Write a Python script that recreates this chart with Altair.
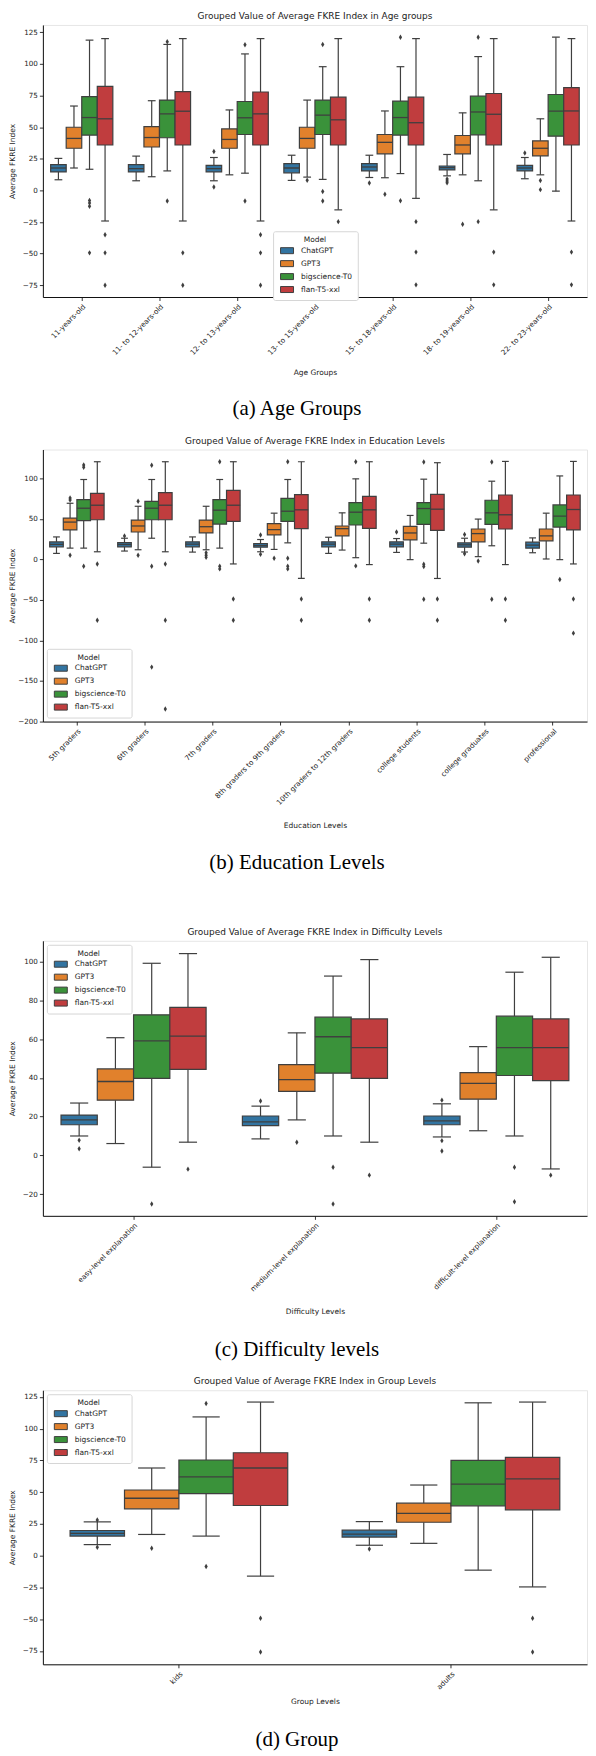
import altair as alt
import pandas as pd

MODELS = ["ChatGPT", "GPT3", "bigscience-T0", "flan-T5-xxl"]
COLORS = ["#3274a1", "#e1812c", "#3a923a", "#c03d3e"]

# every box is (lower whisker, q1, median, q3, upper whisker)

# (a) age groups
AGE_GROUPS = ["11-years-old", "11- to 12-years-old", "12- to 13-years-old",
              "13- to 15-years-old", "15- to 18-years-old", "18- to 19-years-old",
              "22- to 23-years-old"]
AGE_BOXES = {
    "ChatGPT": [(8.4, 14.6, 17.7, 20.3, 25.3), (7.6, 14.6, 17.2, 20.3, 27.1),
                (7.6, 14.6, 17.2, 19.8, 26.0), (7.9, 13.9, 17.7, 21.1, 27.8),
                (10.2, 15.4, 18.5, 21.1, 27.8), (11.5, 16.2, 18.0, 19.3, 28.4),
                (9.2, 15.4, 17.7, 19.8, 26.0)],
    "GPT3": [(17.7, 33.3, 41.1, 49.9, 66.7), (10.8, 34.3, 41.8, 50.4, 70.9),
             (12.3, 33.3, 40.3, 48.6, 63.6), (10.5, 33.3, 41.1, 49.9, 71.4),
             (10.0, 28.9, 38.0, 44.2, 62.8), (12.3, 28.9, 35.9, 43.4, 61.3),
             (12.3, 27.3, 33.3, 39.2, 56.6)],
    "bigscience-T0": [(16.7, 43.7, 57.6, 74.2, 118.8), (15.4, 41.6, 60.5, 71.4, 115.4),
                      (13.6, 44.2, 57.4, 70.3, 107.9), (8.7, 44.2, 59.5, 71.4, 97.8),
                      (13.3, 43.7, 57.6, 70.6, 97.8), (7.6, 43.9, 62.0, 74.5, 105.8),
                      (-0.6, 42.9, 62.6, 75.8, 121.1)],
    "flan-T5-xxl": [(-24.2, 35.9, 56.6, 82.3, 120.0), (-24.2, 35.9, 62.6, 78.1, 120.0),
                    (-24.2, 35.9, 60.5, 77.8, 120.0), (-15.4, 35.9, 55.8, 73.7, 120.0),
                    (-6.3, 35.9, 53.5, 73.7, 120.0), (-15.4, 35.9, 60.2, 76.6, 120.0),
                    (-24.2, 35.9, 62.8, 81.2, 120.0)],
}
AGE_FLIERS = {
    "ChatGPT": [[], [], [30.7, 2.7], [], [5.8], [9.0, 7.5, 6.0], [29.5]],
    "GPT3": [[], [], [], [8.0], [-3.0], [-26.8], [7.9, 0.6]],
    "bigscience-T0": [[-7.9, -10.0, -12.6, -49.4], [117.5, -8.4], [115.2, -8.4],
                      [115.4, -0.9, -8.4], [121.1, -8.2], [121.1, -24.7], []],
    "flan-T5-xxl": [[-35.1, -49.4, -75.0], [-49.4, -75.0], [-35.1, -49.4, -75.0],
                    [-24.7, -48.6, -75.0], [-24.7, -48.8, -74.7], [-48.8, -74.7],
                    [-48.8, -74.7]],
}

# (b) education levels
EDU_GROUPS = ["5th graders", "6th graders", "7th graders", "8th graders to 9th graders",
              "10th graders to 12th graders", "college students", "college graduates",
              "professional"]
EDU_BOXES = {
    "ChatGPT": [(7.3, 15.4, 18.3, 21.5, 27.6), (10.2, 15.4, 18.3, 20.7, 26.0),
                (8.9, 15.4, 18.7, 21.5, 27.6), (9.3, 15.0, 17.1, 19.5, 24.4),
                (7.3, 15.4, 18.7, 21.5, 27.2), (8.5, 15.4, 18.7, 21.5, 25.6),
                (9.0, 15.0, 17.9, 20.3, 26.0), (8.1, 13.8, 17.5, 21.1, 26.4)],
    "GPT3": [(13.8, 36.2, 45.9, 50.8, 69.1), (11.8, 33.7, 41.1, 48.4, 65.4),
             (11.8, 32.5, 40.2, 48.4, 65.4), (12.2, 30.1, 36.6, 43.9, 56.9),
             (11.4, 28.9, 37.8, 41.1, 57.3), (-0.4, 24.0, 32.5, 40.7, 54.1),
             (3.3, 21.5, 31.7, 37.4, 49.6), (0.4, 22.8, 28.9, 37.4, 56.9)],
    "bigscience-T0": [(13.8, 47.6, 63.0, 73.6, 98.4), (26.0, 48.8, 63.0, 71.5, 98.4),
                      (13.8, 43.5, 60.6, 73.6, 98.4), (20.3, 46.7, 59.3, 75.2, 98.4),
                      (2.0, 42.3, 58.1, 69.9, 99.2), (19.9, 43.1, 62.6, 69.9, 98.8),
                      (16.7, 43.1, 57.3, 72.8, 96.3), (-0.4, 39.8, 53.3, 67.1, 102.8)],
    "flan-T5-xxl": [(9.3, 48.8, 66.7, 81.3, 120.3), (9.3, 48.8, 66.7, 82.1, 120.3),
                    (-5.7, 46.7, 66.7, 85.0, 120.3), (-23.6, 37.8, 61.0, 79.7, 120.3),
                    (-6.5, 38.2, 61.0, 77.6, 120.3), (-23.6, 35.8, 61.8, 80.1, 119.1),
                    (-6.5, 37.4, 54.9, 79.3, 120.7), (-5.7, 36.2, 61.4, 79.3, 120.7)],
}
EDU_FLIERS = {
    "ChatGPT": [[], [28.9], [], [30.1, 6.1], [], [33.7], [30.5, 6.9], []],
    "GPT3": [[75.6, 73.0, 4.9], [71.5, 4.9], [8.1, 4.9, 2.4], [1.2], [], [], [-2.0], []],
    "bigscience-T0": [[116.3, 113.5, -8.5], [115.9, -8.5, -132.9], [120.3, -8.5, -11.8],
                      [120.3, 1.2, -8.5, -11.8], [120.3, -8.1], [119.9, -6.1, -8.9, -49.2],
                      [120.0, -49.2], [-24.8]],
    "flan-T5-xxl": [[-5.7, -75.2], [-5.7, -75.2, -184.6], [-48.8, -75.2], [-48.8, -75.2],
                    [-48.8, -75.2], [-48.8, -75.2], [-48.8, -75.2], [-48.8, -91.0]],
}

# (c) difficulty levels
DIFF_GROUPS = ["easy-level explanation", "medium-level explanation",
               "difficult-level explanation"]
DIFF_BOXES = {
    "ChatGPT": [(10.0, 15.8, 18.3, 20.8, 27.0), (8.5, 15.3, 17.3, 20.3, 25.4),
                (9.5, 15.8, 17.8, 20.3, 26.6)],
    "GPT3": [(6.1, 28.5, 38.1, 44.6, 60.7), (18.3, 33.0, 39.1, 46.8, 63.2),
             (12.7, 29.0, 37.1, 42.7, 56.1)],
    "bigscience-T0": [(-6.1, 39.7, 59.1, 72.5, 99.1), (10.0, 42.4, 61.2, 71.3, 92.5),
                      (10.0, 41.2, 55.6, 71.8, 94.5)],
    "flan-T5-xxl": [(6.8, 44.4, 61.5, 76.4, 104.1), (6.8, 39.7, 55.6, 70.4, 101.0),
                    (-7.0, 38.6, 55.6, 70.4, 102.2)],
}
DIFF_FLIERS = {
    "ChatGPT": [[7.8, 3.4], [28.0], [28.5, 7.6, 2.2]],
    "GPT3": [[], [6.8], []],
    "bigscience-T0": [[-25.1], [-6.1, -25.1], [-6.1, -23.9]],
    "flan-T5-xxl": [[-7.1], [-10.2], [-10.2]],
}

# (d) group levels
GROUP_GROUPS = ["kids", "adults"]
GROUP_BOXES = {
    "ChatGPT": [(8.7, 15.4, 17.5, 19.8, 26.6), (8.2, 14.6, 17.0, 20.1, 26.8)],
    "GPT3": [(16.7, 36.9, 45.2, 51.7, 69.0), (9.7, 26.3, 33.3, 41.3, 55.6)],
    "bigscience-T0": [(15.4, 48.8, 62.0, 75.3, 109.2), (-11.4, 39.2, 56.3, 75.0, 120.3)],
    "flan-T5-xxl": [(-16.1, 39.5, 69.0, 81.0, 120.9), (-24.6, 36.1, 60.5, 77.3, 120.9)],
}
GROUP_FLIERS = {
    "ChatGPT": [[28.1, 6.6], [5.3]],
    "GPT3": [[5.8], []],
    "bigscience-T0": [[119.8, -8.5], []],
    "flan-T5-xxl": [[-49.2, -75.9], [-49.2, -75.9]],
}

EDGE = "#3f3f3f"
W = 546
YTITLE = "Average FKRE Index"
SERIF = "Liberation Serif"
DIAMOND = "M0,-1L0.6,0L0,1L-0.6,0Z"
# legend patch: 13 x 6 px drawn with a symbol whose layout box is only 7 px
RECT = "M-1.86,-0.86L1.86,-0.86L1.86,0.86L-1.86,0.86Z"


def to_frames(groups, boxes, fliers):
    rows, pts = [], []
    for m in MODELS:
        for g, (lo, q1, med, q3, hi) in zip(groups, boxes[m]):
            rows.append({"group": g, "Model": m, "lo": lo, "q1": q1,
                         "med": med, "q3": q3, "hi": hi})
        for g, vals in zip(groups, fliers[m]):
            for v in vals:
                pts.append({"group": g, "Model": m, "value": v})
    return pd.DataFrame(rows), pd.DataFrame(pts)


def panel(groups, boxes, fliers, title, xtitle, domain, ticks, height,
          xtitle_y, legend):
    box_df, flier_df = to_frames(groups, boxes, fliers)
    slot = W / len(groups) / 5

    x = alt.X("group:N", sort=groups, title=xtitle,
              scale=alt.Scale(paddingInner=0, paddingOuter=0),
              axis=alt.Axis(labelAngle=-45, labelAlign="right", labelBaseline="top",
                            labelOverlap=False, titleY=xtitle_y,
                            titleBaseline="middle"))
    xoff = alt.XOffset("Model:N", sort=MODELS,
                       scale=alt.Scale(paddingInner=0, paddingOuter=0.5))
    yscale = alt.Scale(domain=domain, nice=False, zero=False)
    yaxis = alt.Axis(values=ticks, titleX=-30, titleBaseline="middle")

    def y(field):
        return alt.Y(field, scale=yscale, axis=yaxis, title=YTITLE)

    base = alt.Chart(box_df).encode(x=x, xOffset=xoff)
    whisk_lo = base.mark_rule(color=EDGE, strokeWidth=1.2).encode(y=y("lo:Q"), y2="q1:Q")
    whisk_hi = base.mark_rule(color=EDGE, strokeWidth=1.2).encode(y=y("q3:Q"), y2="hi:Q")
    cap_lo = base.mark_tick(color=EDGE, size=slot / 2, thickness=1.2, opacity=1).encode(y=y("lo:Q"))
    cap_hi = base.mark_tick(color=EDGE, size=slot / 2, thickness=1.2, opacity=1).encode(y=y("hi:Q"))
    box = base.mark_bar(stroke=EDGE, strokeWidth=1.2, opacity=1).encode(
        y=y("q1:Q"), y2="q3:Q",
        color=alt.Color("Model:N", sort=MODELS,
                        scale=alt.Scale(domain=MODELS, range=COLORS), legend=legend))
    med = base.mark_tick(color=EDGE, size=slot, thickness=1.3, opacity=1).encode(y=y("med:Q"))
    pts = alt.Chart(flier_df).mark_point(shape=DIAMOND, filled=True, size=30,
                                         color=EDGE, opacity=1).encode(
        x=x, xOffset=xoff, y=y("value:Q"))

    return alt.layer(whisk_lo, whisk_hi, cap_lo, cap_hi, box, med, pts).properties(
        width=W, height=height,
        title=alt.TitleParams(title, fontSize=9, fontWeight="normal", offset=4,
                              frame="group", anchor="middle", color="#222"),
        view=alt.ViewBackground(stroke="#e6e6e6"),
    )


def caption(text, height, ytext):
    return alt.Chart(pd.DataFrame({"t": [text]})).mark_text(
        font=SERIF, fontSize=21, align="center", baseline="middle", color="black"
    ).encode(text="t:N", x=alt.value(255), y=alt.value(ytext)).properties(
        width=W, height=height, view=alt.ViewBackground(stroke="transparent"))


leg_a = alt.Legend(title="Model", orient="none", legendX=231, legendY=207)
leg_b = alt.Legend(title="Model", orient="bottom-left", offset=4)
leg_c = alt.Legend(title="Model", orient="top-left", offset=4)
leg_d = alt.Legend(title="Model", orient="top-left", offset=4)

q25 = [-75, -50, -25, 0, 25, 50, 75, 100, 125]

chart = alt.vconcat(
    panel(AGE_GROUPS, AGE_BOXES, AGE_FLIERS,
          "Grouped Value of Average FKRE Index in Age groups", "Age Groups",
          [-84.3, 130.8], q25, 273, 76, leg_a),
    caption("(a) Age Groups", 153, 112),
    panel(EDU_GROUPS, EDU_BOXES, EDU_FLIERS,
          "Grouped Value of Average FKRE Index in Education Levels", "Education Levels",
          [-200, 135.4], [-200, -150, -100, -50, 0, 50, 100], 273, 104, leg_b),
    caption("(b) Education Levels", 220, 142),
    panel(DIFF_GROUPS, DIFF_BOXES, DIFF_FLIERS,
          "Grouped Value of Average FKRE Index in Difficulty Levels", "Difficulty Levels",
          [-31.2, 110.7], [-20, 0, 20, 40, 60, 80, 100], 276, 96, leg_c),
    caption("(c) Difficulty levels", 175, 135),
    panel(GROUP_GROUPS, GROUP_BOXES, GROUP_FLIERS,
          "Grouped Value of Average FKRE Index in Group Levels", "Group Levels",
          [-85.5, 130.2], q25, 275, 37, leg_d),
    caption("(d) Group", 86, 76),
    spacing=0,
    bounds="flush",
).resolve_scale(
    x="independent", y="independent", color="independent", xOffset="independent"
).resolve_legend(
    color="independent"
).properties(
    padding=0
).configure(
    font="DejaVu Sans"
).configure_view(
    stroke="transparent"
).configure_axis(
    labelFontSize=7.2, titleFontSize=7.5, titleFontWeight="normal",
    labelColor="#222", titleColor="#222", domainColor="#111", domainWidth=1,
    tickColor="#333", tickSize=3.5, labelPadding=2, grid=False
).configure_legend(
    titleFontSize=7.5, labelFontSize=7.5, titleFontWeight="normal", titleColor="#222",
    labelColor="#222", titleAnchor="middle", fillColor="white", strokeColor="#d6d6d6",
    cornerRadius=2, padding=5, rowPadding=1, titlePadding=3,
    symbolType=RECT, symbolSize=49, symbolStrokeColor=EDGE, symbolStrokeWidth=1,
    symbolOffset=5, labelOffset=10
)

chart.save("out.html", embed_options={"renderer": "svg", "actions": False})
